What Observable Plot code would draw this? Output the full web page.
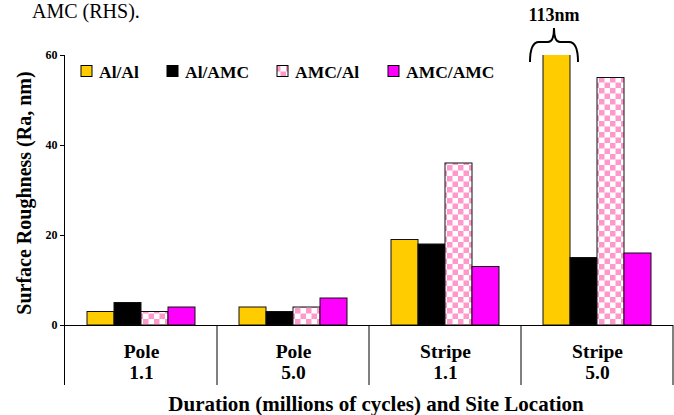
<!DOCTYPE html>
<html><head><meta charset="utf-8">
<script src="https://cdn.jsdelivr.net/npm/d3@7"></script>
<script src="https://cdn.jsdelivr.net/npm/@observablehq/plot@0.6"></script>
<style>
body{margin:0;background:#fff;}
#chart{position:relative;width:674px;height:415px;overflow:hidden;}
</style>
</head><body><div id="chart"></div>
<script>
// ---- data ----
const categories = ["Pole 1.1", "Pole 5.0", "Stripe 1.1", "Stripe 5.0"];
const series = ["Al/Al", "Al/AMC", "AMC/Al", "AMC/AMC"];
const alAl   = [3, 4, 19, 113];
const alAmc  = [5, 3, 18, 15];
const amcAl  = [3, 4, 36, 55];
const amcAmc = [4, 6, 13, 16];
const yTicks = [0, 20, 40, 60];
const colors = ["#FFCC00", "#000000", "url(#checker)", "#FF00FF"];
const annotation = "113nm";
const caption = "AMC (RHS).";
const yTitle = "Surface Roughness (Ra, nm)";
const xTitle = "Duration (millions of cycles) and Site Location";

const valuesBySeries = [alAl, alAmc, amcAl, amcAmc];
const data = [];
categories.forEach((c, i) => series.forEach((s, j) => data.push({cat: c, series: s, value: valuesBySeries[j][i]})));

const FONT = "'Liberation Serif', 'Times New Roman', serif";

const plot = Plot.plot({
  width: 674, height: 415,
  marginTop: 55, marginBottom: 90, marginLeft: 65, marginRight: 1,
  style: {fontFamily: FONT, fontWeight: "bold", fontSize: "12px", color: "#000", background: "transparent", overflow: "visible"},
  fx: {domain: categories, paddingInner: 0, paddingOuter: 0, label: null},
  x: {domain: series, paddingInner: 0, paddingOuter: 0.76, axis: null},
  y: {domain: [0, 60], label: null},
  color: {domain: series, range: colors},
  marks: [
    Plot.barY(data, {fx: "cat", x: "series", y: "value", fill: "series", stroke: "#111", strokeWidth: 1, clip: true}),
    Plot.ruleY([0], {stroke: "#000", strokeWidth: 1}),
    Plot.axisY({ticks: yTicks, tickSize: 5, tickPadding: 3, fontSize: 12, label: null, stroke: "#000", strokeOpacity: 1}),
    Plot.axisFx({anchor: "bottom", tickSize: 0, tickPadding: 17, fontSize: 19.5, lineHeight: 1.1, label: null,
                 tickFormat: d => d.replace(" ", "\n")})
  ]
});

document.getElementById("chart").appendChild(plot);

const svg = d3.select(plot);
svg.style("font-family", FONT);
// checker pattern
const defs = svg.insert("defs", ":first-child");
const pat = defs.append("pattern").attr("id", "checker").attr("patternUnits", "userSpaceOnUse")
  .attr("width", 11).attr("height", 11);
pat.append("rect").attr("width", 11).attr("height", 11).attr("fill", "#fff");
pat.append("rect").attr("width", 5.5).attr("height", 5.5).attr("fill", "#FF99CC");
pat.append("rect").attr("x", 5.5).attr("y", 5.5).attr("width", 5.5).attr("height", 5.5).attr("fill", "#FF99CC");

const fx = plot.scale("fx");
const y = plot.scale("y");
const y0 = y.apply(0);
const yTop = y.apply(60);
const bounds = categories.map(c => fx.apply(c));
bounds.push(fx.apply(categories[categories.length - 1]) + fx.bandwidth);
const yBottom = y0 + 60;

const ann = svg.append("g").attr("text-anchor", "start").style("font-family", FONT);
// y axis line & separators
ann.append("line").attr("x1", bounds[0] - 0.5).attr("x2", bounds[0] - 0.5).attr("y1", yTop).attr("y2", yBottom)
  .attr("stroke", "#000").attr("stroke-width", 1);
bounds.slice(1).forEach(b => ann.append("line").attr("x1", b).attr("x2", b).attr("y1", y0).attr("y2", yBottom)
  .attr("stroke", "#000").attr("stroke-width", 1));

function txt(x, yy, s, size, opts = {}) {
  const t = ann.append("text").attr("x", x).attr("y", yy).attr("text-anchor", opts.anchor || "start")
    .style("font-family", FONT).style("font-weight", opts.weight || "bold").style("font-size", size + "px").text(s);
  if (opts.transform) t.attr("transform", opts.transform);
  return t;
}
// titles
txt(376, 411, xTitle, 21, {anchor: "middle"});
txt(0, 0, yTitle, 20, {anchor: "middle", transform: `translate(31,${(y0 + yTop) / 2 + 3}) rotate(-90)`});
txt(32, 18, caption, 20, {weight: "normal"});

// legend
const legX = [81, 167, 277, 388];
series.forEach((s, i) => {
  ann.append("rect").attr("x", legX[i]).attr("y", 65.5).attr("width", 11).attr("height", 11)
    .attr("fill", colors[i]).attr("stroke", "#000").attr("stroke-width", 1);
  txt(legX[i] + 18, 78, s, 17.5);
});

// brace over clipped bar
const yellowRects = svg.selectAll("rect").nodes().filter(n => (n.getAttribute("fill") || "").toUpperCase() === "#FFCC00"
  && n.closest("defs") === null && n.parentNode !== ann.node());
let r = yellowRects.reduce((a, n) => (!a || n.getBoundingClientRect().height > a.getBoundingClientRect().height) ? n : a, null);
if (r) {
  const bb = r.getBoundingClientRect();
  const sb = plot.getBoundingClientRect();
  const bl = bb.left - sb.left, br = bb.right - sb.left;
  const x0 = bl - 13, x1 = br + 8, xm = (x0 + x1) / 2;
  const yb = 62, yh = 42, yt = 28;
  const d = `M${x0},${yb} Q${x0},${yh} ${x0 + 9},${yh} L${xm - 6},${yh} Q${xm},${yh} ${xm},${yt}` +
            ` M${xm},${yt} Q${xm},${yh} ${xm + 6},${yh} L${x1 - 9},${yh} Q${x1},${yh} ${x1},${yb}`;
  ann.append("path").attr("d", d).attr("fill", "none").attr("stroke", "#000").attr("stroke-width", 2);
  txt(xm, 21, annotation, 18, {anchor: "middle"});
}
</script>
</body></html>
